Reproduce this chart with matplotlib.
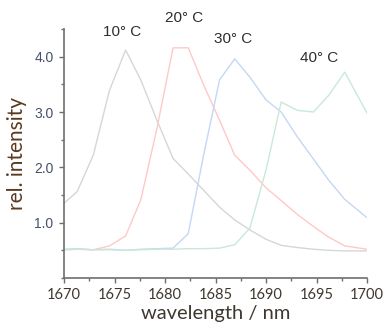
import numpy as np
import matplotlib
matplotlib.use('Agg')
import matplotlib.pyplot as plt
from matplotlib.ticker import MultipleLocator, FormatStrFormatter

# 共通の波長軸 (nm)
wavelength = [1670.0, 1671.3, 1672.9, 1674.5, 1676.1, 1677.6, 1679.2, 1680.8, 1682.3, 1683.8,
              1685.4, 1686.9, 1688.4, 1690.0, 1691.5, 1693.1, 1694.7, 1696.2, 1697.8, 1700.0]

# 温度ごとの相対強度
int_10 = [1.35, 1.56, 2.22, 3.39, 4.12, 3.58, 2.85, 2.16, 1.88, 1.59,
          1.28, 1.05, 0.87, 0.70, 0.59, 0.55, 0.52, 0.50, 0.49, 0.49]
int_20 = [0.51, 0.52, 0.51, 0.58, 0.76, 1.41, 2.70, 4.16, 4.16, 3.50,
          2.85, 2.22, 1.95, 1.63, 1.40, 1.15, 0.93, 0.74, 0.58, 0.52]
int_30 = [0.52, 0.53, 0.51, 0.52, 0.50, 0.52, 0.53, 0.54, 0.80, 2.20,
          3.58, 3.96, 3.63, 3.22, 3.00, 2.55, 2.15, 1.77, 1.42, 1.09]
int_40 = [0.51, 0.52, 0.51, 0.51, 0.50, 0.51, 0.52, 0.52, 0.53, 0.53,
          0.54, 0.60, 0.90, 1.95, 3.18, 3.03, 3.00, 3.30, 3.72, 2.98]

series = [int_10, int_20, int_30, int_40]
colors = ['#d6d6d6', '#ffc8c8', '#c4d7f6', '#c9e9d7']

# ラベル (テキスト, 位置)
labels = ['10° C', '20° C', '30° C', '40° C']
label_pos = [(1675.8, 4.45), (1681.9, 4.70), (1686.7, 4.32), (1695.3, 3.98)]

fig = plt.figure(figsize=(3.84, 3.27), dpi=100)
ax = fig.add_axes([64/384, 49/327, 303/384, 249/327])

for y, c in zip(series, colors):
    ax.plot(wavelength, y, color=c, lw=1.0)

for txt, (x, y) in zip(labels, label_pos):
    ax.text(x, y, txt, ha='center', va='center', fontsize=11,
            family='Liberation Sans', color='#2e2e2e', clip_on=False)

ax.set_xlim(1670, 1700)
ax.set_ylim(0, 4.5)
ax.xaxis.set_major_locator(MultipleLocator(5))
ax.xaxis.set_minor_locator(MultipleLocator(2.5))
ax.set_yticks([1, 2, 3, 4])
ax.yaxis.set_minor_locator(MultipleLocator(0.5))
ax.yaxis.set_major_formatter(FormatStrFormatter('%.1f'))

for s in ['top', 'right']:
    ax.spines[s].set_visible(False)
for s in ['left', 'bottom']:
    ax.spines[s].set_color('#6e6e6e')
    ax.spines[s].set_linewidth(1.2)

ax.tick_params(which='both', direction='out', color='#6e6e6e', width=1.0)
ax.tick_params(which='major', length=3.5)
ax.tick_params(which='minor', length=2.5)
ax.tick_params(axis='x', pad=4, labelsize=10.5, labelcolor='#3f3830')
ax.tick_params(axis='y', pad=4, labelsize=10, labelcolor='#46506a')
for t in ax.get_xticklabels():
    t.set_family('Lato')
for t in ax.get_yticklabels():
    t.set_family('Liberation Sans')

ax.set_xlabel('wavelength / nm', family='Lato', fontsize=14.5, color='#3f3830', labelpad=2)
ax.set_ylabel('rel. intensity', family='Lato', fontsize=15, color='#5a3a1e', labelpad=5)

fig.savefig('out.png', dpi=100)
